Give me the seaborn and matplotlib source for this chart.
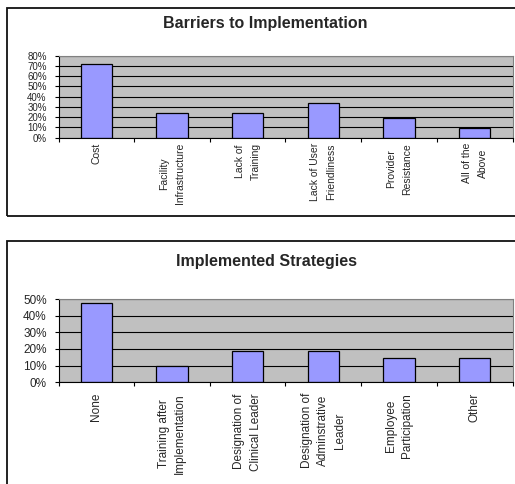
import matplotlib
matplotlib.use("Agg")
import matplotlib.pyplot as plt
import matplotlib.patches as mpatches
from matplotlib.ticker import FixedLocator, FuncFormatter
import seaborn as sns
import pandas as pd

# ---- data ----
barrier_categories = ["Cost", "Facility\nInfrastructure", "Lack of\nTraining",
                      "Lack of User\nFriendliness", "Provider\nResistance", "All of the\nAbove"]
barrier_values = [71.4, 23.8, 23.8, 33.3, 19.0, 9.5]
barrier_yticks = [0, 10, 20, 30, 40, 50, 60, 70, 80]
barrier_title = "Barriers to Implementation"

strategy_categories = ["None", "Training after\nImplementation", "Designation of\nClinical Leader",
                       "Designation of\nAdminstrative\nLeader", "Employee\nParticipation", "Other"]
strategy_values = [47.6, 9.5, 19.0, 19.0, 14.3, 14.3]
strategy_yticks = [0, 10, 20, 30, 40, 50]
strategy_title = "Implemented Strategies"

sns.set_style("white")
plt.rcParams["font.family"] = ["Liberation Sans", "DejaVu Sans"]

W, H = 515, 484
fig = plt.figure(figsize=(W / 100, H / 100), dpi=100)
fig.patch.set_facecolor("white")

# chart-area frames
fig.patches.append(mpatches.Rectangle((6.5 / W, 1 - 215.5 / H), 1.2, (215.5 - 7.5) / H,
                                      transform=fig.transFigure, fill=False,
                                      edgecolor="#111111", lw=1.3, clip_on=False))
fig.patches.append(mpatches.Rectangle((6.5 / W, -0.1), 1.2, 0.1 + (H - 241) / H,
                                      transform=fig.transFigure, fill=False,
                                      edgecolor="#111111", lw=1.3, clip_on=False))


def draw(ax, cats, vals, yticks, label_size, ylabel_size, linespacing, pad):
    df = pd.DataFrame({"cat": cats, "val": vals})
    sns.barplot(data=df, x="cat", y="val", ax=ax, color="#9999FF", saturation=1,
                edgecolor="black", linewidth=0.9, width=0.41)
    n = len(cats)
    ax.set_xlim(-0.5, n - 0.5)
    ax.set_ylim(yticks[0], yticks[-1])
    ax.set_facecolor("#C0C0C0")
    ax.set_axisbelow(True)
    ax.set_yticks(yticks)
    ax.yaxis.set_major_formatter(FuncFormatter(lambda v, p: f"{v:.0f}%"))
    ax.yaxis.grid(True, color="black", lw=0.8)
    ax.xaxis.grid(False)
    ax.set_xlabel("")
    ax.set_ylabel("")
    for s in ["top", "right"]:
        ax.spines[s].set_color("#808080")
        ax.spines[s].set_linewidth(0.8)
    for s in ["left", "bottom"]:
        ax.spines[s].set_color("black")
        ax.spines[s].set_linewidth(0.8)
    ax.tick_params(axis="y", which="major", direction="out", length=3, width=0.8,
                   color="black", pad=5.5, labelsize=ylabel_size, left=True)
    ax.xaxis.set_minor_locator(FixedLocator([i - 0.5 for i in range(n + 1)]))
    ax.tick_params(axis="x", which="minor", direction="out", length=3, width=0.8,
                   color="black", bottom=True)
    ax.tick_params(axis="x", which="major", length=0, pad=pad, labelsize=label_size)
    for t in ax.get_xticklabels():
        t.set_rotation(90)
        t.set_ha("center")
        t.set_va("top")
        t.set_multialignment("center")
        t.set_linespacing(linespacing)


ax1 = fig.add_axes([58.5 / W, 1 - 137.5 / H, (512.5 - 58.5) / W, (137.5 - 55.5) / H])
draw(ax1, barrier_categories, barrier_values, barrier_yticks, 7.5, 7.0, 1.75, 4.0)

ax2 = fig.add_axes([58.5 / W, 1 - 382.3 / H, (512.5 - 58.5) / W, (382.3 - 299) / H])
draw(ax2, strategy_categories, strategy_values, strategy_yticks, 8.5, 8.5, 1.5, 7.7)

fig.text(265 / W, 1 - 23.5 / H, barrier_title, ha="center", va="center",
         fontsize=11.5, fontweight="bold")
fig.text(266 / W, 1 - 261.5 / H, strategy_title, ha="center", va="center",
         fontsize=11.5, fontweight="bold")

fig.savefig("out.png", dpi=100)
